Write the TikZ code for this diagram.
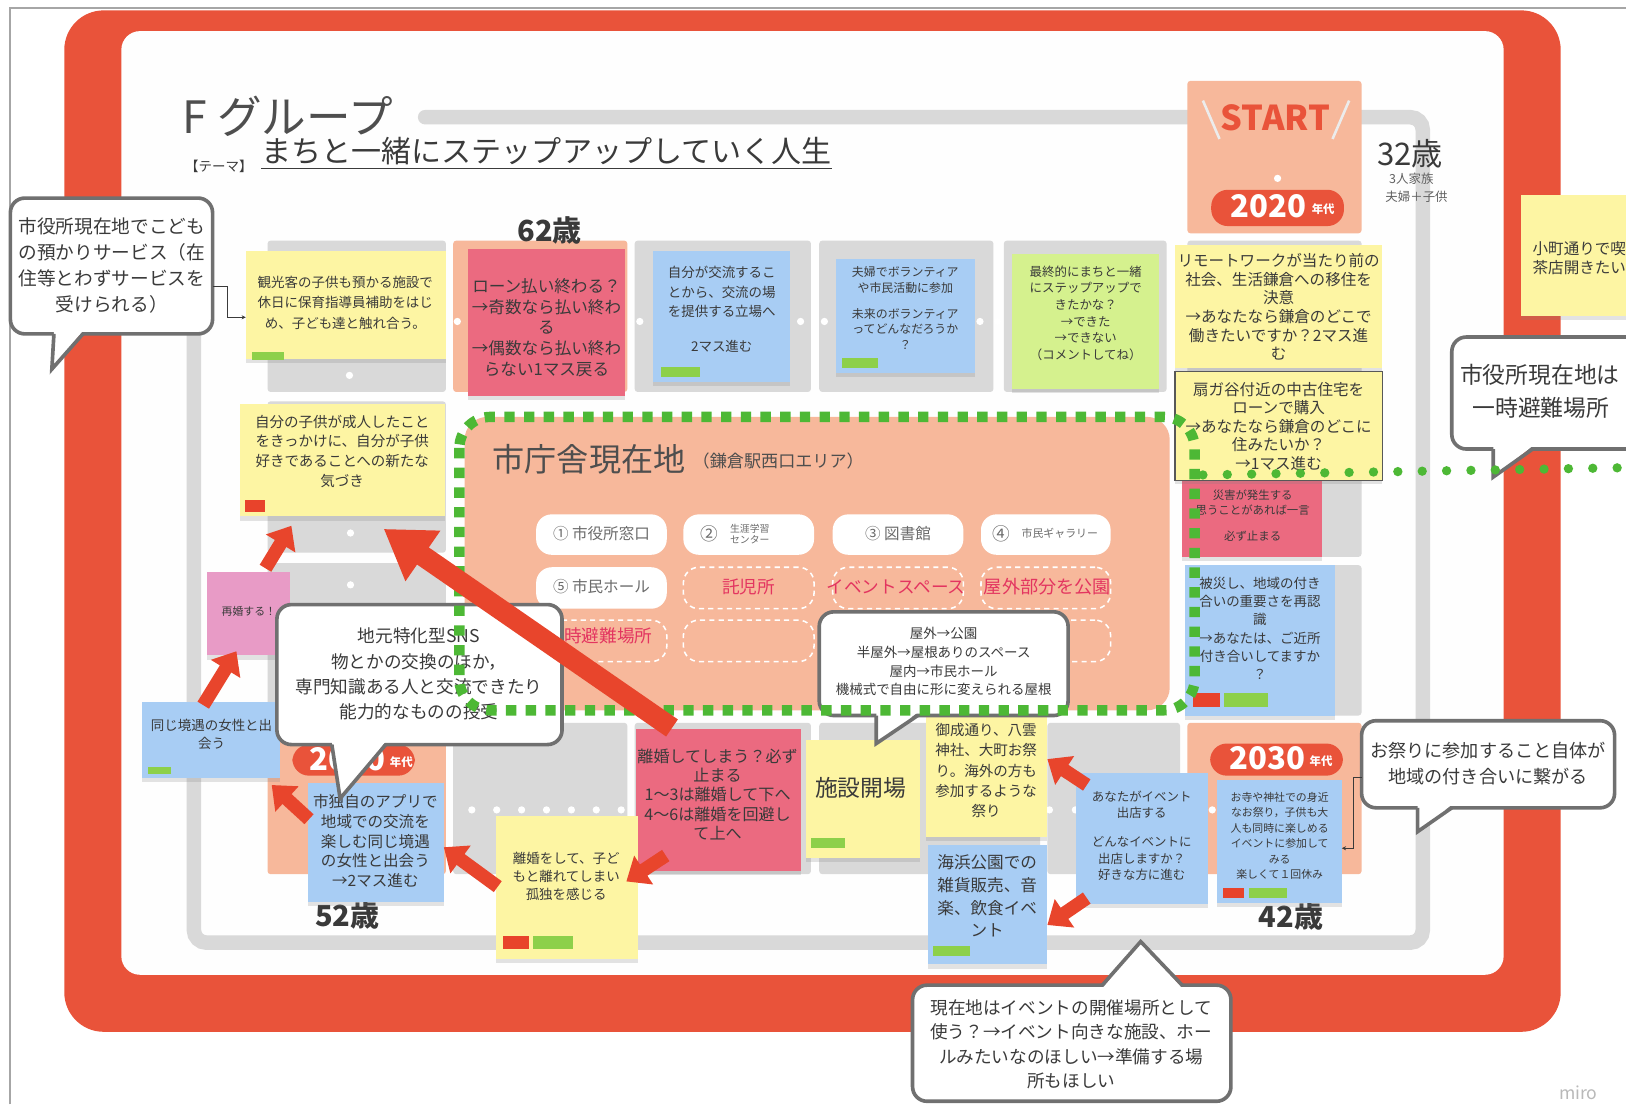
\documentclass[tikz,border=0pt]{standalone}
\usepackage{fontspec}
\setmainfont{Noto Sans CJK JP}
\usetikzlibrary{arrows.meta,shadows}
\definecolor{frame}{HTML}{E9533A}
\definecolor{salmon}{HTML}{F7B89B}
\definecolor{cellg}{HTML}{D9D9D9}
\definecolor{yel}{HTML}{FDF5A3}
\definecolor{blu}{HTML}{A8CDF4}
\definecolor{pnk}{HTML}{EB6A80}
\definecolor{grn}{HTML}{D5F18E}
\definecolor{mag}{HTML}{E89BC6}
\definecolor{tabg}{HTML}{8DD04A}
\definecolor{tabr}{HTML}{E8432B}
\definecolor{dotg}{HTML}{4DB835}
\definecolor{ink}{HTML}{3A3A3A}
\definecolor{bub}{HTML}{707070}
\definecolor{arr}{HTML}{E8452C}
\definecolor{pinktxt}{HTML}{E33560}
\newcommand\fz[2]{\fontsize{#1}{#2}\selectfont}
\newcommand\rectnode[7]{\node[#7, fill=#6, anchor=north west, minimum width=#4pt-#2pt, minimum height=#5pt-#3pt] (#1) at (#2,#3) {};}
\newcommand\bubB[9]{%
  \node[bubble, anchor=north west, minimum width=#4pt-#2pt, minimum height=#5pt-#3pt] (#1) at (#2,#3) {};
  \fill[white] (#6,#5-3) -- (#8,#9) -- (#7,#5-3) -- cycle;
  \draw[bubline] (#6,#5) -- (#8,#9) -- (#7,#5);}
\newcommand\bubT[9]{%
  \node[bubble, anchor=north west, minimum width=#4pt-#2pt, minimum height=#5pt-#3pt] (#1) at (#2,#3) {};
  \fill[white] (#6,#3+3) -- (#8,#9) -- (#7,#3+3) -- cycle;
  \draw[bubline] (#6,#3) -- (#8,#9) -- (#7,#3);}
\begin{document}
\begin{tikzpicture}[x=1pt,y=-1pt,
 every node/.style={inner sep=0pt,outer sep=0pt},
 cellst/.style={rounded corners=3pt},
 stk/.style={drop shadow={shadow xshift=0pt,shadow yshift=-4pt,opacity=0.22}},
 tabst/.style={},
 lbl/.style={text=ink, align=center},
 bubble/.style={draw=bub, line width=3.5pt, fill=white, rounded corners=14pt},
 bubline/.style={draw=bub, line width=3.5pt},
 pill/.style={fill=white, rounded corners=15pt},
 dpill/.style={draw=white, line width=1.5pt, dash pattern=on 5pt off 4pt, rounded corners=15pt},
 redpill/.style={fill=frame, rounded corners=16pt},
 dotst/.style={circle, fill=white, minimum size=7pt},
 smallarr/.style={draw=arr, line width=13pt, -{Triangle[length=20pt,width=32pt]}},
 bigarr/.style={draw=arr, line width=20pt, -{Triangle[length=46pt,width=56pt]}},
 connline/.style={draw=ink, line width=0.8pt, -{Stealth[length=4pt,width=4pt]}},
]
\useasboundingbox (0,0) rectangle (1568,1065);
\clip (0,0) rectangle (1568,1065);
\fill[white] (0,0) rectangle (1568,1065);
\draw[gray!70, line width=2pt] (10,1065) -- (10,8) -- (1568,8);
% red frame
\fill[frame, rounded corners=38pt] (62,10) rectangle (1505,995);
\fill[white!99!gray, rounded corners=18pt] (117,30) rectangle (1450,940);
% board outline
\draw[cellg, line width=14pt, rounded corners=12pt, line cap=round] (410,113) -- (1372,113) -- (1372,909) -- (187,909) -- (187,234);
% cells
\rectnode{c11}{258}{232}{430}{378}{cellg}{cellst}
\rectnode{c12}{437}{232}{605}{378}{salmon}{cellst}
\rectnode{c13}{612}{232}{782}{378}{cellg}{cellst}
\rectnode{c14}{790}{232}{958}{378}{cellg}{cellst}
\rectnode{c15}{968}{232}{1125}{378}{cellg}{cellst}
\rectnode{cst}{1145}{78}{1313}{225}{salmon}{cellst}
\rectnode{c26}{1145}{232}{1313}{378}{cellg}{cellst}
\rectnode{c36}{1145}{385}{1313}{537}{cellg}{cellst}
\rectnode{c46}{1145}{545}{1313}{690}{cellg}{cellst}
\rectnode{c56}{1145}{697}{1313}{843}{salmon}{cellst}
\rectnode{c21}{258}{387}{430}{533}{cellg}{cellst}
\rectnode{c31}{258}{543}{430}{690}{cellg}{cellst}
\rectnode{c51}{258}{697}{430}{843}{salmon}{cellst}
\rectnode{c52}{437}{697}{605}{843}{cellg}{cellst}
\rectnode{c53}{612}{697}{782}{843}{cellg}{cellst}
\rectnode{c54}{790}{697}{1003}{843}{cellg}{cellst}
\rectnode{c55}{1010}{697}{1138}{843}{cellg}{cellst}
% white dots
\foreach \x [count=\i] in {441,617,772,795,945,962} \node[dotst] (dt\i) at (\x,310) {};
\foreach \x [count=\i] in {455,479,503,527,551,575,599,1012,1037,1169} \node[dotst] (dbt\i) at (\x,781) {};
\node[dotst] (dl1) at (337,362) {};
\node[dotst] (dl2) at (338,514) {};
\node[dotst] (dl3) at (338,564) {};
\node[dotst] (dst) at (1232,172) {};
% START
\node[text=frame, font=\bfseries\fz{33}{36}] (start) at (1230,114) {START};
\draw[white!85!gray, line width=2.5pt] (1160,97) -- (1176,134);
\draw[white!85!gray, line width=2.5pt] (1301,97) -- (1285,134);
\rectnode{p2020}{1168}{183}{1296}{218}{frame}{redpill}
\node[text=white, font=\bfseries\fz{30}{34}] (y2020) at (1223,199) {2020};
\node[text=white, font=\bfseries\fz{11}{12}] (n2020) at (1276,202) {年代};
\rectnode{p2030}{1167}{717}{1295}{748}{frame}{redpill}
\node[text=white, font=\bfseries\fz{30}{34}] (y2030) at (1222,731) {2030};
\node[text=white, font=\bfseries\fz{11}{12}] (n2030) at (1274,734) {年代};
\rectnode{p2010}{282}{718}{400}{748}{frame}{redpill}
\node[text=white, font=\bfseries\fz{30}{34}] (y2010) at (335,732) {2010};
\node[text=white, font=\bfseries\fz{11}{12}] (n2010) at (387,735) {年代};
% titles
\node[text=ink!90, font=\fz{43}{46}, anchor=west] (title) at (176,112) {F グループ};
\node[text=ink, font=\fz{13}{15}] (tema) at (211,160) {【テーマ】};
\node[text=ink, font=\fz{29}{32}, anchor=west] (theme) at (252,146) {まちと一緒にステップアップしていく人生};
\draw[ink, line width=1.5pt] (theme.south west) ++(0,3) -- ([yshift=-3pt]theme.south east);
\node[text=ink, font=\fz{30}{34}, anchor=west] (age32) at (1328,148) {32歳};
\node[text=ink!80, font=\fz{12}{14}] (fam1) at (1361,172) {3人家族};
\node[text=ink!80, font=\fz{12}{14}] (fam2) at (1366,190) {夫婦＋子供};
\node[text=ink, font=\bfseries\fz{28}{30}] (age62) at (530,222) {62歳};
\node[text=ink, font=\bfseries\fz{28}{30}] (age52) at (335,883) {52歳};
\node[text=ink, font=\bfseries\fz{28}{30}] (age42) at (1245,884) {42歳};
% city hall region
\rectnode{city}{448}{402}{1128}{685}{salmon}{rounded corners=22pt}
\node[text=ink!90, font=\fz{31}{34}, anchor=west] (cityt) at (475,443) {市庁舎現在地};
\node[text=ink!90, font=\fz{16.5}{18}, anchor=west] (citys) at (668,445) {（鎌倉駅西口エリア）};
\rectnode{pl1}{517}{496}{643}{535}{white}{pill}
\rectnode{pl2}{659}{496}{785}{535}{white}{pill}
\rectnode{pl3}{803}{496}{929}{535}{white}{pill}
\rectnode{pl4}{946}{496}{1071}{535}{white}{pill}
\rectnode{pl5}{517}{547}{643}{587}{white}{pill}
\rectnode{pl6}{659}{547}{785}{587}{none}{dpill}
\rectnode{pl7}{803}{547}{929}{587}{none}{dpill}
\rectnode{pl8}{946}{547}{1071}{587}{none}{dpill}
\rectnode{pl9}{517}{598}{643}{638}{none}{dpill}
\rectnode{pl10}{659}{598}{785}{638}{none}{dpill}
\rectnode{pl11}{803}{598}{929}{638}{none}{dpill}
\rectnode{pl12}{946}{598}{1071}{638}{none}{dpill}
\node[text=ink!75, font=\fz{15}{17}] (pl1t) at (580,515) {① 市役所窓口};
\node[text=ink!75, font=\fz{17}{18}] (pl2a) at (684,515) {②};
\node[text=ink!75, font=\fz{9.5}{11}, align=left] (pl2t) at (723,515) {生涯学習\\センター};
\node[text=ink!75, font=\fz{15}{17}] (pl3t) at (866,515) {③ 図書館};
\node[text=ink!75, font=\fz{17}{18}] (pl4a) at (966,515) {④};
\node[text=ink!75, font=\fz{10.5}{12}] (pl4t) at (1022,514) {市民ギャラリー};
\node[text=ink!75, font=\fz{15}{17}] (pl5t) at (580,566) {⑤ 市民ホール};
\node[text=pinktxt, font=\fz{17}{19}] (pl6t) at (722,566) {託児所};
\node[text=pinktxt, font=\fz{17}{19}] (pl7t) at (864,566) {イベントスペース};
\node[text=pinktxt, font=\fz{17.5}{19}] (pl8t) at (1010,566) {屋外部分を公園};
\node[text=pinktxt, font=\fz{17}{19}] (pl9t) at (578,613) {一時避難場所};
% stickies
\rectnode{sA}{237}{242}{430}{346}{yel}{stk}
\rectnode{tA}{243}{339}{274}{347}{tabg}{tabst}
\node[lbl, font=\fz{13}{19.5}] (sAt) at (333,292) {観光客の子供も預かる施設で\\休日に保育指導員補助をはじ\\め、子ども達と触れ合う。};
\rectnode{sB}{451}{240}{603}{382}{pnk}{stk}
\node[lbl, font=\fz{16}{20}] (sBt) at (527,316) {ローン払い終わる？\\→奇数なら払い終わ\\る\\→偶数なら払い終わ\\らない1マス戻る};
\rectnode{sC}{630}{242}{762}{368}{blu}{stk}
\rectnode{tC}{637}{354}{675}{364}{tabg}{tabst}
\node[lbl, font=\fz{13}{19}] (sCt) at (696,298) {自分が交流するこ\\とから、交流の場\\を提供する立場へ\\[14pt]2マス進む};
\rectnode{sD}{806}{250}{940}{360}{blu}{stk}
\rectnode{tD}{812}{345}{847}{355}{tabg}{tabst}
\node[lbl, font=\fz{11.5}{15}] (sDt) at (873,297) {夫婦でボランティア\\や市民活動に参加\\[10pt]未来のボランティア\\ってどんなだろうか\\？};
\rectnode{sE}{976}{245}{1118}{375}{grn}{stk}
\node[lbl, font=\fz{12}{16}] (sEt) at (1047,302) {最終的にまちと一緒\\にステップアップで\\きたかな？\\→できた\\→できない\\（コメントしてね）};
\rectnode{sR1}{1133}{236}{1333}{355}{yel}{stk}
\node[lbl, font=\fz{15}{18}] (sR1t) at (1233,296) {リモートワークが当たり前の\\社会、生活鎌倉への移住を\\決意\\→あなたなら鎌倉のどこで\\働きたいですか？2マス進\\む};
\rectnode{sR3}{1140}{460}{1275}{537}{pnk}{stk}
\node[lbl, font=\fz{11}{15}] (sR3t) at (1208,497) {災害が発生する\\思うことがあれば一言\\[10pt]必ず止まる};
\rectnode{sR2}{1133}{358}{1333}{463}{yel}{stk, draw=ink!85, line width=1.2pt}
\node[lbl, font=\fz{15}{17.8}] (sR2t) at (1233,411) {扇ガ谷付近の中古住宅を\\ローンで購入\\→あなたなら鎌倉のどこに\\住みたいか？\\→1マス進む};
\rectnode{sR4}{1143}{545}{1287}{690}{blu}{stk}
\rectnode{tR4r}{1150}{668}{1176}{682}{tabr}{tabst}
\rectnode{tR4g}{1180}{668}{1223}{682}{tabg}{tabst}
\node[lbl, font=\fz{13}{17.5}] (sR4t) at (1215,606) {被災し、地域の付き\\合いの重要さを再認\\識\\→あなたは、ご近所\\付き合いしてますか\\？};
\rectnode{sT}{1174}{752}{1294}{871}{blu}{stk}
\rectnode{tTr}{1179}{856}{1200}{866}{tabr}{tabst}
\rectnode{tTg}{1204}{856}{1241}{866}{tabg}{tabst}
\node[lbl, font=\fz{10.5}{15}] (sTt) at (1234,806) {お寺や神社での身近\\なお祭り，子供も大\\人も同時に楽しめる\\イベントに参加して\\みる\\楽しくて１回休み};
\rectnode{sEv}{1038}{745}{1165}{872}{blu}{stk}
\node[lbl, font=\fz{12}{16}] (sEvt) at (1101,806) {あなたがイベント\\出店する\\[12pt]どんなイベントに\\出店しますか？\\好きな方に進む};
\rectnode{sOn}{893}{690}{1010}{807}{yel}{stk}
\node[lbl, font=\fz{14}{19.5}] (sOnt) at (951,743) {御成通り、八雲\\神社、大町お祭\\り。海外の方も\\参加するような\\祭り};
\rectnode{sKai}{895}{815}{1010}{930}{blu}{stk}
\rectnode{tKai}{900}{912}{935}{922}{tabg}{tabst}
\node[lbl, font=\fz{16}{22}] (sKait) at (952,864) {海浜公園での\\雑貨販売、音\\楽、飲食イベ\\ント};
\rectnode{sShi}{777}{714}{887}{827}{yel}{stk}
\rectnode{tShi}{782}{808}{815}{818}{tabg}{tabst}
\node[lbl, font=\fz{22}{24}] (sShit) at (830,760) {施設開場};
\rectnode{sRk}{613}{703}{772}{840}{pnk}{stk}
\node[lbl, font=\fz{15.5}{18.5}] (sRkt) at (692,766) {離婚してしまう？必ず\\止まる\\1～3は離婚して下へ\\4～6は離婚を回避し\\て上へ};
\rectnode{sRk2}{478}{787}{615}{925}{yel}{stk}
\rectnode{tRk2r}{485}{903}{510}{915}{tabr}{tabst}
\rectnode{tRk2g}{514}{903}{553}{915}{tabg}{tabst}
\node[lbl, font=\fz{13}{17}] (sRk2t) at (546,845) {離婚をして、子ど\\もと離れてしまい\\孤独を感じる};
\rectnode{sApp}{297}{755}{428}{870}{blu}{stk}
\node[lbl, font=\fz{15}{19}] (sAppt) at (362,811) {市独自のアプリで\\地域での交流を\\楽しむ同じ境遇\\の女性と出会う\\→2マス進む};
\rectnode{sOnna}{137}{677}{270}{750}{blu}{stk}
\rectnode{tOnna}{143}{740}{165}{746}{tabg}{tabst}
\node[lbl, font=\fz{13}{17}] (sOnnat) at (204,708) {同じ境遇の女性と出\\会う};
\rectnode{sKo}{231}{390}{429}{498}{yel}{stk}
\rectnode{tKo}{236}{482}{256}{494}{tabr}{tabst}
\node[lbl, font=\fz{14}{19}] (sKot) at (330,435) {自分の子供が成人したこと\\をきっかけに、自分が子供\\好きであることへの新たな\\気づき};
\rectnode{sSai}{200}{552}{280}{632}{mag}{stk}
\node[lbl, font=\fz{10.5}{12}] (sSait) at (240,590) {再婚する！};
\rectnode{sKoma}{1467}{188}{1600}{305}{yel}{stk}
\node[lbl, font=\fz{15}{18}, align=left, anchor=west] (sKomat) at (1478,249) {小町通りで喫\\茶店開きたい};
% bubbles
\bubB{bTL}{10}{191}{205}{322}{52}{80}{50}{356}
\node[lbl, font=\fz{18}{25}] (bTLt) at (108,256) {市役所現在地でこども\\の預かりサービス（在\\住等とわずサービスを\\受けられる）};
\bubB{bJi}{267}{583}{542}{718}{320}{372}{328}{770}
\node[lbl, font=\fz{17}{24.5}] (bJit) at (404,650) {地元特化型SNS\\物とかの交換のほか，\\専門知識ある人と交流できたり\\能力的なものの授受};
\bubB{bOk}{790}{590}{1030}{690}{845}{885}{845}{717}
\node[lbl, font=\fz{13}{18}] (bOkt) at (910,638) {屋外→公園\\半屋外→屋根ありのスペース\\屋内→市民ホール\\機械式で自由に形に変えられる屋根};
\bubB{bOm}{1313}{695}{1557}{779}{1367}{1400}{1367}{802}
\node[lbl, font=\fz{17.5}{25}] (bOmt) at (1435,736) {お祭りに参加すること自体が\\地域の付き合いに繋がる};
\bubT{bGe}{880}{950}{1187}{1062}{1063}{1140}{1100}{908}
\node[lbl, font=\fz{17}{23.5}] (bGet) at (1033,1007) {現在地はイベントの開催場所として\\使う？→イベント向きな施設、ホー\\ルみたいなのほしい→準備する場\\所もほしい};
\bubB{bR}{1400}{325}{1600}{433}{1440}{1478}{1440}{460}
\node[lbl, font=\fz{22}{32}, align=left, anchor=west] (bRt) at (1408,377) {市役所現在地は\\\hspace{12pt}一時避難場所};
% thin connectors
\coordinate (k1) at (219,276);
\coordinate (k2) at (219,306);
\draw[connline] (bTL.east |- k1) -- (k1) -- (k2) -- (sA.west |- k2);
\coordinate (k3) at (1305,750);
\coordinate (k4) at (1305,818);
\draw[connline] (bOm.west |- k3) -- (k3) -- (k4) -- (sT.east |- k4);
% green dotted outline
\draw[dotg, line width=10pt, dash pattern=on 10pt off 9pt, rounded corners=30pt] (443,402) rectangle (1152,685);
\coordinate (g1) at (1160,458);
\coordinate (g2) at (1568,451);
\draw[dotg, line width=9pt, line cap=round, dash pattern=on 0pt off 23.5pt] (g1) -- (g2);
% red arrows
\coordinate (a1s) at (648,702); \coordinate (a1e) at (370,510);
\draw[bigarr] (a1s) -- (a1e);
\coordinate (a2s) at (256,548); \coordinate (a2e) at (281,507);
\draw[smallarr] (a2s) -- (a2e);
\coordinate (a3s) at (196,680); \coordinate (a3e) at (228,628);
\draw[smallarr] (a3s) -- (a3e);
\coordinate (a4s) at (298,790); \coordinate (a4e) at (262,757);
\draw[smallarr] (a4s) -- (a4e);
\coordinate (a5s) at (480,855); \coordinate (a5e) at (428,817);
\draw[smallarr] (a5s) -- (a5e);
\coordinate (a6s) at (642,825); \coordinate (a6e) at (604,850);
\draw[smallarr] (a6s) -- (a6e);
\coordinate (a7s) at (1048,757); \coordinate (a7e) at (1010,732);
\draw[smallarr] (a7s) -- (a7e);
\coordinate (a8s) at (1048,866); \coordinate (a8e) at (1010,892);
\draw[smallarr] (a8s) -- (a8e);
\node[text=gray!55, font=\fz{17}{19}] (miro) at (1522,1054) {miro};
\end{tikzpicture}
\end{document}
